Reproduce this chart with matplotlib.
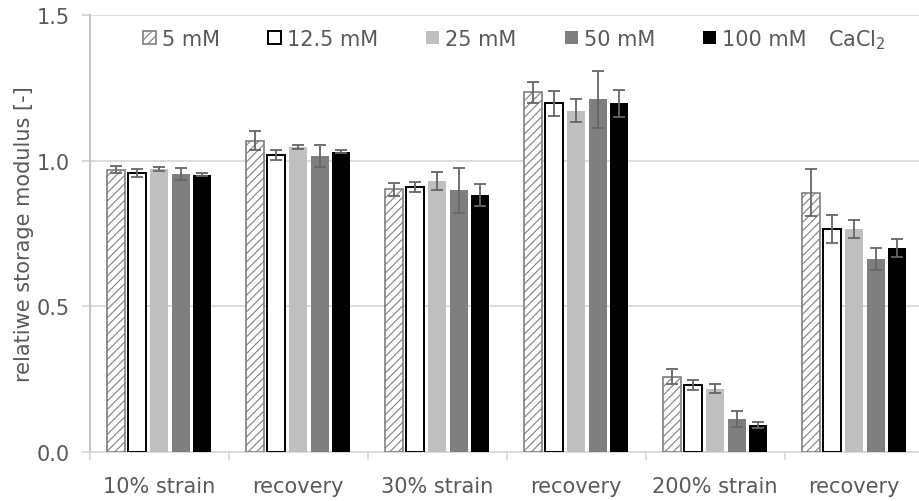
import matplotlib
matplotlib.use("Agg")
import matplotlib.pyplot as plt
from matplotlib.patches import Patch
import numpy as np

plt.rcParams['font.family'] = ['DejaVu Sans']
plt.rcParams['hatch.color'] = '#7f7f7f'
plt.rcParams['hatch.linewidth'] = 0.8

categories = ["10% strain", "recovery", "30% strain", "recovery", "200% strain", "recovery"]
series_names = ["5 mM", "12.5 mM", "25 mM", "50 mM", "100 mM"]

mean_5 = [0.969, 1.069, 0.902, 1.235, 0.259, 0.890]
mean_12_5 = [0.957, 1.020, 0.910, 1.197, 0.230, 0.767]
mean_25 = [0.971, 1.046, 0.929, 1.172, 0.217, 0.766]
mean_50 = [0.954, 1.017, 0.899, 1.211, 0.113, 0.663]
mean_100 = [0.952, 1.031, 0.883, 1.197, 0.093, 0.700]

err_5 = [0.012, 0.033, 0.023, 0.036, 0.025, 0.081]
err_12_5 = [0.014, 0.017, 0.018, 0.043, 0.017, 0.048]
err_25 = [0.006, 0.007, 0.031, 0.039, 0.015, 0.030]
err_50 = [0.022, 0.038, 0.077, 0.098, 0.028, 0.037]
err_100 = [0.005, 0.004, 0.037, 0.047, 0.011, 0.031]

means = [mean_5, mean_12_5, mean_25, mean_50, mean_100]
errors = [err_5, err_12_5, err_25, err_50, err_100]

styles = [
    dict(facecolor='white', edgecolor='#7f7f7f', hatch='////', linewidth=1.2),
    dict(facecolor='white', edgecolor='black', linewidth=1.4),
    dict(facecolor='#bfbfbf', edgecolor='#bfbfbf', linewidth=0),
    dict(facecolor='#7f7f7f', edgecolor='#7f7f7f', linewidth=0),
    dict(facecolor='black', edgecolor='black', linewidth=0),
]

text_color = '#595959'
W, H = 919, 502
fig = plt.figure(figsize=(W / 100, H / 100), dpi=100)
ax = fig.add_axes([89.5 / W, 49 / H, 834 / W, 437 / H])

x = np.arange(len(categories))
bar_w = 0.13
step = 0.156
for i, (m, e, st) in enumerate(zip(means, errors, styles)):
    pos = x + (i - 2) * step
    ax.bar(pos, m, width=bar_w, zorder=3, **st)
    ax.errorbar(pos, m, yerr=e, fmt='none', ecolor='#666666', elinewidth=1.3,
                capsize=4.3, capthick=1.3, zorder=4)

ax.set_xlim(-0.5, len(categories) - 0.5)
ax.set_ylim(0, 1.5)
ax.set_yticks([0.0, 0.5, 1.0, 1.5])
ax.set_yticklabels(['0.0', '0.5', '1.0', '1.5'])
ax.yaxis.grid(True, color='#d9d9d9', linewidth=1.3, zorder=0)
ax.set_axisbelow(True)

ax.set_xticks(np.arange(-0.5, len(categories) + 0.5, 1.0))
ax.set_xticklabels([])
ax.set_xticks(x, minor=True)
ax.set_xticklabels(categories, minor=True)
ax.tick_params(axis='x', which='major', length=6, color='#d9d9d9', width=1.3, direction='out')
ax.tick_params(axis='x', which='minor', length=0, pad=17, labelsize=15, labelcolor=text_color)
ax.tick_params(axis='y', length=6, color='#d9d9d9', width=1.3, direction='out',
               labelsize=15, labelcolor=text_color, pad=8)

for side in ['top', 'right']:
    ax.spines[side].set_visible(False)
ax.spines['left'].set_color('#bfbfbf')
ax.spines['left'].set_linewidth(1.3)
ax.spines['bottom'].set_color('#d9d9d9')
ax.spines['bottom'].set_linewidth(1.3)

ax.set_ylabel('relatiwe storage modulus [-]', fontsize=15, color=text_color, labelpad=2)

handles = [Patch(**st) for st in styles]
leg = ax.legend(handles, series_names, ncol=5, frameon=False, loc='center left',
                bbox_to_anchor=(143 / W, 1 - 40 / H), bbox_transform=fig.transFigure,
                borderpad=0, borderaxespad=0, handlelength=0.62, handleheight=0.62,
                handletextpad=0.3, columnspacing=2.3, fontsize=15)
for t in leg.get_texts():
    t.set_color(text_color)

fig.text(828 / W, 1 - 40 / H, 'CaCl$_2$', fontsize=15, color=text_color,
         ha='left', va='center')

fig.savefig('out.png', dpi=100)
